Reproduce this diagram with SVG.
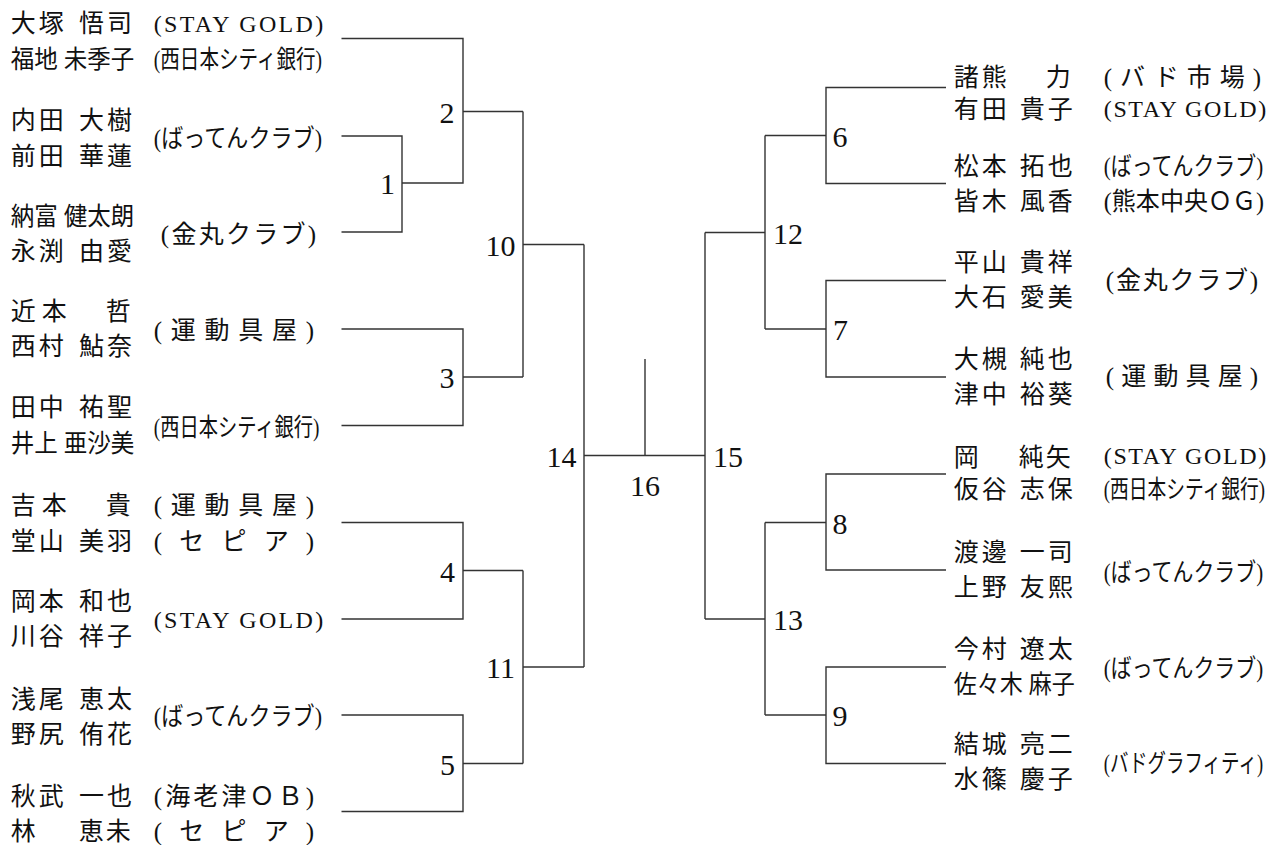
<svg xmlns="http://www.w3.org/2000/svg" width="1282" height="845" viewBox="0 0 1282 845">
<style>
.ln{fill:none;stroke:#333;stroke-width:1.4}
.t{font-family:'Liberation Serif','Noto Sans CJK JP',serif;font-size:25px;fill:#111}
.lat{font-size:24px}
.num{font-family:'Liberation Serif','Noto Sans CJK JP',serif;font-size:30px;fill:#111;text-anchor:middle}
</style>
<rect width="1282" height="845" fill="#fff"/>
<g id="connectors" class="ln">
<path d="M341.5 38.5H463V183H402"/>
<path d="M341.5 136H402V232H341.5"/>
<path d="M463 111.5H523"/>
<path d="M341.5 329H463V425.5H341.5"/>
<path d="M463 377H523"/>
<path d="M523 111.5V377"/>
<path d="M523 244.5H584"/>
<path d="M341.5 522.5H463V619H341.5"/>
<path d="M463 570.5H523"/>
<path d="M341.5 715H463V811.5H341.5"/>
<path d="M463 763.5H523"/>
<path d="M523 570.5V763.5"/>
<path d="M523 667H584"/>
<path d="M584 244.5V667"/>
<path d="M584 455.5H705"/>
<path d="M645 359V455.5"/>
<path d="M705 232.5V619"/>
<path d="M705 232.5H765"/>
<path d="M765 135.5V329"/>
<path d="M765 135.5H826"/>
<path d="M946 87.5H826V183.5H946"/>
<path d="M765 329H826"/>
<path d="M946 280.5H826V377H946"/>
<path d="M705 619H765"/>
<path d="M765 522.5V715"/>
<path d="M765 522.5H826"/>
<path d="M946 474H826V570H946"/>
<path d="M765 715H826"/>
<path d="M946 667H826V763.5H946"/>
</g>
<g id="entry-L1" class="t">
<text x="10.8 38.8 79 107" y="32">大塚悟司</text>
<text x="153.8" y="32" class="lat" textLength="169.4" lengthAdjust="spacing">(STAY GOLD)</text>
</g>
<g id="entry-L2" class="t">
<text transform="translate(10.8 68) scale(0.941 1)">福地 未季子</text>
<text transform="translate(153.8 68) scale(0.782 1)">(西日本シティ銀行)</text>
</g>
<g id="entry-L3" class="t">
<text x="10.8 38.8 79 107" y="128.5">内田大樹</text>
<text x="10.8 38.8 79 107" y="164.5">前田華蓮</text>
<text transform="translate(153.8 146.5) scale(0.884 1)">(ばってんクラブ)</text>
</g>
<g id="entry-L4" class="t">
<text transform="translate(10.8 224.5) scale(0.941 1)">納富 健太朗</text>
<text x="10.8 38.8 79 107" y="259.5">永渕由愛</text>
<text x="160.8" y="242.5" textLength="155.4" lengthAdjust="spacing">(金丸クラブ)</text>
</g>
<g id="entry-L5" class="t">
<text x="10.8 41.8 105.8" y="319.5">近本哲</text>
<text x="10.8 38.8 79 107" y="355">西村鮎奈</text>
<text x="153.8" y="339" textLength="160.4" lengthAdjust="spacing">(運動具屋)</text>
</g>
<g id="entry-L6" class="t">
<text x="10.8 38.8 79 107" y="415.5">田中祐聖</text>
<text transform="translate(10.8 452) scale(0.941 1)">井上 亜沙美</text>
<text transform="translate(153.8 435.5) scale(0.77 1)">(西日本シティ銀行)</text>
</g>
<g id="entry-L7" class="t">
<text x="10.8 41.8 105.8" y="513.5">吉本貴</text>
<text x="153.8" y="513.5" textLength="160.4" lengthAdjust="spacing">(運動具屋)</text>
</g>
<g id="entry-L8" class="t">
<text x="10.8 38.8 79 107" y="549.5">堂山美羽</text>
<text x="153.8" y="549.5" textLength="160.4" lengthAdjust="spacing">(セピア)</text>
</g>
<g id="entry-L9" class="t">
<text x="10.8 38.8 79 107" y="610">岡本和也</text>
<text x="10.8 38.8 79 107" y="645">川谷祥子</text>
<text x="153.8" y="628" class="lat" textLength="169.4" lengthAdjust="spacing">(STAY GOLD)</text>
</g>
<g id="entry-L10" class="t">
<text x="10.8 38.8 79 107" y="708">浅尾恵太</text>
<text x="10.8 38.8 79 107" y="743">野尻侑花</text>
<text transform="translate(153.8 725) scale(0.884 1)">(ばってんクラブ)</text>
</g>
<g id="entry-L11" class="t">
<text x="10.8 38.8 79 107" y="804.5">秋武一也</text>
<text x="153.8" y="804.5" textLength="160.4" lengthAdjust="spacing">(海老津ＯＢ)</text>
</g>
<g id="entry-L12" class="t">
<text x="10.8 78.8 105.8" y="839.5">林恵未</text>
<text x="153.8" y="839.5" textLength="160.4" lengthAdjust="spacing">(セピア)</text>
</g>
<g id="entry-R1" class="t">
<text x="953.8 981.8 1045.8" y="85.5">諸熊力</text>
<text x="1103.8" y="85.5" textLength="157.4" lengthAdjust="spacing">(バド市場)</text>
</g>
<g id="entry-R2" class="t">
<text x="953.8 981.8 1019.8 1047.8" y="118">有田貴子</text>
<text x="1103.8" y="117" class="lat" textLength="162.4" lengthAdjust="spacing">(STAY GOLD)</text>
</g>
<g id="entry-R3" class="t">
<text x="953.8 981.8 1019.8 1047.8" y="174.5">松本拓也</text>
<text transform="translate(1103.8 174.5) scale(0.837 1)">(ばってんクラブ)</text>
</g>
<g id="entry-R4" class="t">
<text x="953.8 981.8 1019.8 1047.8" y="209.5">皆木風香</text>
<text transform="translate(1103.8 209.5) scale(0.9625 1)">(熊本中央ＯＧ)</text>
</g>
<g id="entry-R5" class="t">
<text x="953.8 981.8 1019.8 1047.8" y="271">平山貴祥</text>
<text x="953.8 981.8 1019.8 1047.8" y="306">大石愛美</text>
<text x="1105.8" y="288.5" textLength="152.4" lengthAdjust="spacing">(金丸クラブ)</text>
</g>
<g id="entry-R6" class="t">
<text x="953.8 981.8 1019.8 1047.8" y="368">大槻純也</text>
<text x="953.8 981.8 1019.8 1047.8" y="403">津中裕葵</text>
<text x="1105.8" y="384.5" textLength="152.4" lengthAdjust="spacing">(運動具屋)</text>
</g>
<g id="entry-R7" class="t">
<text x="953.8 1018.8 1045.8" y="465.5">岡純矢</text>
<text x="1103.8" y="464" class="lat" textLength="162.4" lengthAdjust="spacing">(STAY GOLD)</text>
</g>
<g id="entry-R8" class="t">
<text x="953.8 981.8 1019.8 1047.8" y="498">仮谷志保</text>
<text transform="translate(1103.8 498) scale(0.75 1)">(西日本シティ銀行)</text>
</g>
<g id="entry-R9" class="t">
<text x="953.8 981.8 1019.8 1047.8" y="561">渡邊一司</text>
<text x="953.8 981.8 1019.8 1047.8" y="596">上野友熙</text>
<text transform="translate(1103.8 580.5) scale(0.837 1)">(ばってんクラブ)</text>
</g>
<g id="entry-R10" class="t">
<text x="953.8 981.8 1019.8 1047.8" y="658">今村遼太</text>
<text transform="translate(953.8 693) scale(0.922 1)">佐々木 麻子</text>
<text transform="translate(1103.8 676.5) scale(0.837 1)">(ばってんクラブ)</text>
</g>
<g id="entry-R11" class="t">
<text x="953.8 981.8 1019.8 1047.8" y="753">結城亮二</text>
<text x="953.8 981.8 1019.8 1047.8" y="788">水篠慶子</text>
<text transform="translate(1103.8 771.5) scale(0.74 1)">(バドグラフィティ)</text>
</g>
<g id="match-1"><text class="num" x="387.5" y="194">1</text></g>
<g id="match-2"><text class="num" x="447" y="122.5">2</text></g>
<g id="match-3"><text class="num" x="447" y="388">3</text></g>
<g id="match-4"><text class="num" x="447.5" y="581.5">4</text></g>
<g id="match-5"><text class="num" x="447.5" y="774.5">5</text></g>
<g id="match-6"><text class="num" x="840" y="146.5">6</text></g>
<g id="match-7"><text class="num" x="840.5" y="340">7</text></g>
<g id="match-8"><text class="num" x="840" y="533.5">8</text></g>
<g id="match-9"><text class="num" x="840" y="726">9</text></g>
<g id="match-10"><text class="num" x="500.5" y="255.5">10</text></g>
<g id="match-11"><text class="num" x="500.5" y="678">11</text></g>
<g id="match-12"><text class="num" x="788" y="243.5">12</text></g>
<g id="match-13"><text class="num" x="788" y="630">13</text></g>
<g id="match-14"><text class="num" x="561.5" y="467">14</text></g>
<g id="match-15"><text class="num" x="728" y="467">15</text></g>
<g id="match-16"><text class="num" x="645" y="496">16</text></g>
</svg>
